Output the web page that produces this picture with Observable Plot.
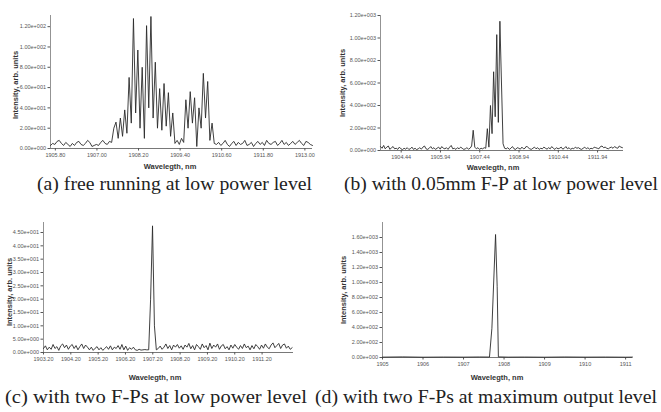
<!DOCTYPE html>
<html>
<head>
<meta charset="utf-8">
<script src="https://cdn.jsdelivr.net/npm/d3@7"></script>
<script src="https://cdn.jsdelivr.net/npm/@observablehq/plot@0.6"></script>
<style>
  html, body { margin: 0; padding: 0; background: #fff; }
  #fig { position: relative; width: 661px; height: 412px; background: #fff; overflow: hidden; }
  .panel { position: absolute; }
  .lab { position: absolute; font-family: "Liberation Sans", Arial, sans-serif; font-weight: bold; font-size: 7.5px; color: #333; white-space: nowrap; transform: translate(-50%, -50%); }
  .ylab { transform: translate(-50%, -50%) rotate(-90deg); }
  .cap { position: absolute; font-family: "Liberation Serif", "Times New Roman", serif; font-size: 18px; color: #222; white-space: nowrap; transform-origin: 0 50%; }
</style>
</head>
<body>
<div id="fig"></div>
<script>
// ---------- Data ----------
// (a) free running at low power level: sampling grid + intensities
const aStart = 1905.66, aStep = 0.063;
const aIntensity = [3,5,4,7,8,5,3,6,4,2,5,3,6,7,4,3,5,8,6,2,3,4,3,6,8,5,4,7,
  6,20,26,10,30,12,38,15,70,25,128,35,97,20,80,10,121,40,130,30,85,20,59,18,64,22,55,12,35,5,8,4,10,6,48,20,56,25,50,2,40,20,74,30,66,8,25,5,
  4,6,3,5,8,4,2,5,7,3,6,4,5,8,3,4,6,2,5,7,4,6,3,8,5,4,6,7,3,5,8,4,6,3,5,7,4,6,8,5,3,7,6,4,3];
const aXTicks = [1905.8, 1907.0, 1908.2, 1909.4, 1910.6, 1911.8, 1913.0];
const aYTicks = [0, 20, 40, 60, 80, 100, 120];

// (b) with 0.05mm F-P at low power level
const bStart = 1903.65, bStep = 0.06;
const bIntensity = [35,20,45,15,30,40,10,25,35,15,20,10,30,15,8,20,12,25,10,15,30,10,20,8,15,25,12,30,40,15,10,20,35,15,25,10,20,30,12,35,20,15,25,10,30,45,15,20,10,25,15,30,20,10,15,25,12,20,
  40,180,30,15,25,10,20,15,25,20,194,30,400,150,700,300,1030,250,1149,600,60,20,
  15,25,10,20,35,15,10,25,20,12,30,15,20,40,25,15,10,20,30,15,25,10,20,15,30,20,12,25,15,35,20,10,25,15,20,30,12,20,35,15,25,10,20,15,30,20,25,15,10,20,30,15,25,12,20,15,30,25,20,15,35,40,25,30,20,15,25,30,20,35,25,20,40,30,25];
const bXTicks = [1904.44, 1905.94, 1907.44, 1908.94, 1910.44, 1911.94];
const bYTicks = [0, 200, 400, 600, 800, 1000, 1200];

// (c) with two F-Ps at low power level
const cStart = 1903.2, cStep = 0.07;
const cIntensity = [1.5,2.5,1.0,2.0,1.2,3.0,1.5,2.2,0.8,2.5,3.2,1.8,2.8,1.2,2.4,3.0,1.5,2.6,1.0,2.2,3.2,1.5,2.8,2.0,1.0,2.0,0.8,1.6,2.2,1.0,1.8,0.8,1.5,2.2,1.2,2.5,1.0,2.0,1.5,2.6,1.2,3.0,1.0,2.4,0.8,1.8,1.2,2.0,1.0,0.8,1.2,0.9,1.0,1.1,1.0,
  1.0,20,47.5,10,1.0,
  1.5,2.4,1.2,2.0,3.2,1.5,2.6,1.0,2.8,2.0,3.0,1.6,2.5,1.2,2.8,2.0,3.4,1.4,2.6,1.0,3.0,2.2,1.2,3.2,1.8,2.6,1.0,3.5,1.5,2.8,2.0,3.2,1.2,2.5,3.0,1.4,2.2,1.0,2.8,1.6,3.0,2.0,1.2,2.6,1.5,3.2,1.8,2.4,1.0,2.6,1.4,3.0,2.2,1.2,2.8,1.6,3.2,2.0,1.4,2.8,3.6,1.8,2.6,3.4,1.5,2.8,3.2,1.6,2.4,1.2,1.8];
const cXTicks = [1903.2, 1904.2, 1905.2, 1906.2, 1907.2, 1908.2, 1909.2, 1910.2, 1911.2];
const cYTicks = [0, 5, 10, 15, 20, 25, 30, 35, 40, 45];

// (d) with two F-Ps at maximum output level
const dWavelength = [1905.0, 1905.5, 1906.0, 1906.5, 1907.0, 1907.4, 1907.64, 1907.70, 1907.79, 1907.83, 1907.86, 1908.1, 1908.5, 1909.0, 1909.5, 1910.0, 1910.5, 1911.0, 1911.17];
const dIntensity = [5, 8, 4, 6, 5, 7, 6, 390, 1640, 950, 8, 5, 6, 4, 7, 5, 6, 4, 5];
const dXTicks = [1905, 1906, 1907, 1908, 1909, 1910, 1911];
const dYTicks = [0, 200, 400, 600, 800, 1000, 1200, 1400, 1600];

const captions = [
  "(a) free running at low power level",
  "(b) with 0.05mm F-P at low power level",
  "(c) with two F-Ps at low power level",
  "(d) with two F-Ps at maximum output level"
];
const xLabel = "Wavelegth, nm";
const yLabel = "Intensity, arb. units";

// ---------- Helpers ----------
function gridRows(start, step, values) {
  return values.map((v, i) => ({wl: start + step * i, v}));
}
function sci(d) {
  if (d === 0) return "0.00e+000";
  const e = Math.floor(Math.log10(Math.abs(d)) + 1e-9);
  const m = d / Math.pow(10, e);
  return m.toFixed(2) + "e" + (e < 0 ? "-" : "+") + String(Math.abs(e)).padStart(3, "0");
}
function panel(o) {
  return Plot.plot({
    width: o.width, height: o.height,
    marginLeft: o.ml, marginRight: o.mr, marginTop: o.mt, marginBottom: o.mb,
    x: {domain: o.xDomain, ticks: o.xTicks, tickFormat: o.xFmt, label: null, tickSize: 2.5, tickPadding: 2},
    y: {domain: o.yDomain, ticks: o.yTicks, tickFormat: sci, label: null, tickSize: 2.5, tickPadding: 2},
    style: {fontSize: "5.5px", fontFamily: "Liberation Sans, Arial, sans-serif", color: "#555", background: "transparent", overflow: "visible"},
    marks: [
      Plot.ruleX([o.xDomain[0]], {stroke: "#777", strokeWidth: 0.8}),
      Plot.ruleY([0], {stroke: "#555", strokeWidth: 0.8}),
      Plot.line(o.data, {x: "wl", y: "v", stroke: "#2a2a2a", strokeWidth: 0.9})
    ]
  });
}

const fig = document.getElementById("fig");
function place(node, left, top) {
  node.classList.add("panel");
  node.style.left = left + "px";
  node.style.top = top + "px";
  fig.appendChild(node);
}
function label(text, x, y, cls) {
  const d = document.createElement("div");
  d.className = cls;
  d.textContent = text;
  d.style.left = x + "px";
  d.style.top = y + "px";
  fig.appendChild(d);
}
function caption(text, left, cy, targetWidth) {
  const d = document.createElement("div");
  d.className = "cap";
  d.textContent = text;
  d.style.left = left + "px";
  d.style.top = cy + "px";
  fig.appendChild(d);
  const w = d.getBoundingClientRect().width;
  d.style.transform = `translateY(-50%) scaleX(${(targetWidth / w).toFixed(3)})`;
}

// (a)
place(panel({
  width: 330, height: 160, ml: 50, mr: 18, mt: 15, mb: 12,
  xDomain: [1905.66, 1913.22], yDomain: [0, 131],
  xTicks: aXTicks, yTicks: aYTicks, xFmt: d => d.toFixed(2),
  data: gridRows(aStart, aStep, aIntensity)
}), 0, 0);
// (b)
place(panel({
  width: 331, height: 162, ml: 50, mr: 38, mt: 15, mb: 12,
  xDomain: [1903.65, 1912.93], yDomain: [0, 1200],
  xTicks: bXTicks, yTicks: bYTicks, xFmt: d => d.toFixed(2),
  data: gridRows(bStart, bStep, bIntensity)
}), 330, 0);
// (c)
place(panel({
  width: 330, height: 162, ml: 43, mr: 37, mt: 22, mb: 10,
  xDomain: [1903.2, 1912.35], yDomain: [0, 48.75],
  xTicks: cXTicks, yTicks: cYTicks, xFmt: d => d.toFixed(2),
  data: gridRows(cStart, cStep, cIntensity)
}), 0, 200);
// (d)
place(panel({
  width: 331, height: 167, ml: 52, mr: 29, mt: 22, mb: 10,
  xDomain: [1905, 1911.17], yDomain: [0, 1800],
  xTicks: dXTicks, yTicks: dYTicks, xFmt: d => String(d),
  data: dWavelength.map((wl, i) => ({wl, v: dIntensity[i]}))
}), 330, 200);

// axis titles
label(xLabel, 170, 166, "lab");
label(xLabel, 493, 167, "lab");
label(xLabel, 155, 377, "lab");
label(xLabel, 497, 377, "lab");
label(yLabel, 15, 85, "lab ylab");
label(yLabel, 342, 83, "lab ylab");
label(yLabel, 9, 292, "lab ylab");
label(yLabel, 343, 290, "lab ylab");

// captions
caption(captions[0], 37, 184, 275);
caption(captions[1], 344, 184, 314);
caption(captions[2], 5, 397, 302);
caption(captions[3], 315, 397, 342);
</script>
</body>
</html>
